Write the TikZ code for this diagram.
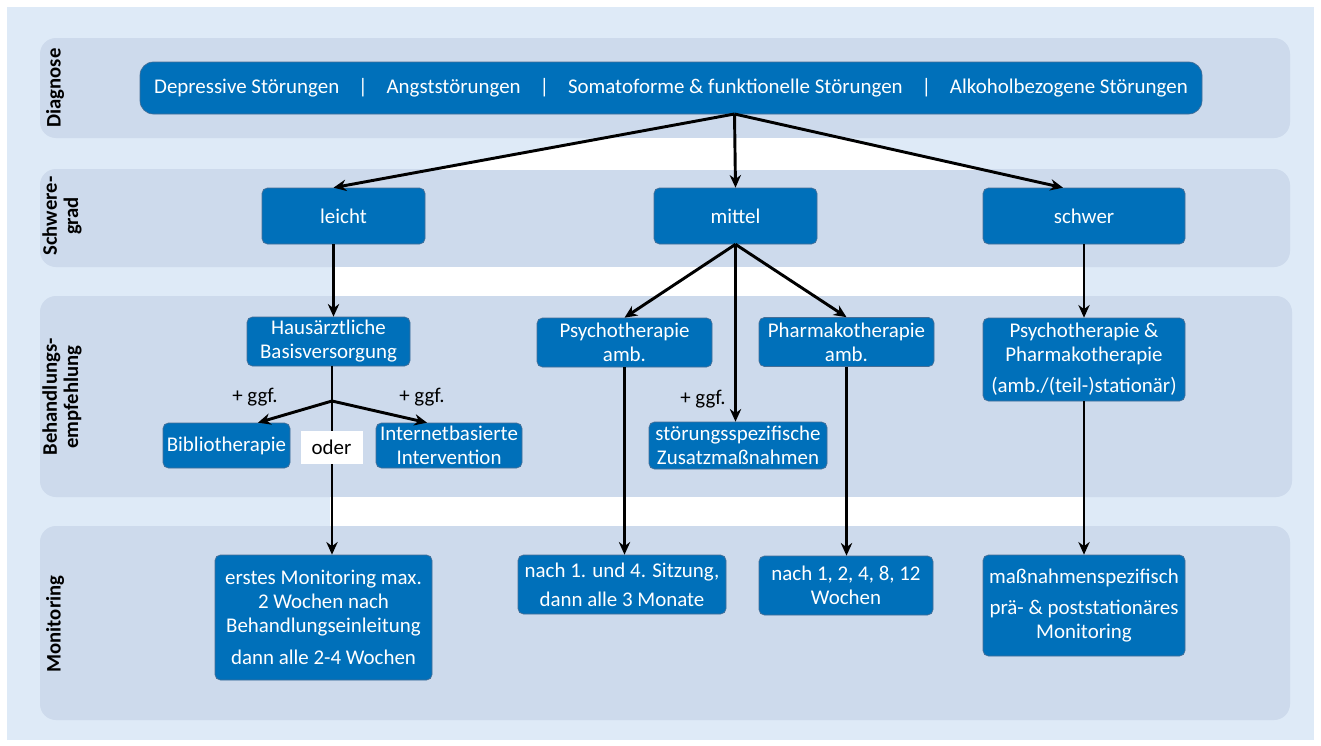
\documentclass[tikz,border=0pt]{standalone}
\usepackage{fontspec}
\setmainfont{Carlito}
\usetikzlibrary{arrows.meta,calc}
\definecolor{bgblue}{RGB}{222,234,247}
\definecolor{bandcol}{RGB}{205,218,236}
\definecolor{boxblue}{RGB}{0,112,186}
\definecolor{boxedge}{RGB}{70,110,150}
\begin{document}
\begin{tikzpicture}[x=0.75pt,y=-0.75pt,
  bbox/.style={fill=boxblue, draw=boxedge, line width=0.5pt, rounded corners=4pt, text=white,
    font=\fontsize{15.7}{18}\selectfont, align=center, inner sep=0pt},
  arr/.style={line width=2.2pt, -{Stealth[length=9.5pt,width=8.5pt]}},
  ln/.style={line width=2.2pt},
  bandlabel/.style={rotate=90, font=\fontsize{15.5}{16}\selectfont\bfseries, align=center},
  bandbox/.style={fill=bandcol, rounded corners=12pt},
  plain/.style={font=\fontsize{15.7}{18}\selectfont, inner sep=0pt}]
\useasboundingbox (0,0) rectangle (1321,746);
\fill[white] (0,0) rectangle (1321,746);
\fill[bgblue] (7,7) rectangle (1314,740);
% bands
\fill[bandbox] (40,38) rectangle (1290,138);
\fill[bandbox] (40,169) rectangle (1290,267);
\fill[bandbox] (40,296) rectangle (1292,497);
\fill[bandbox] (40,526) rectangle (1290,720);
% white gaps
\begin{scope}
  \clip (0,138) rectangle (1321,169);
  \fill[white] (734,114) -- (333,188) -- (1063,188) -- cycle;
\end{scope}
\fill[white] (333,267) rectangle (1083,296);
\fill[white] (330,497) rectangle (1083,526);
% band labels
\node[bandlabel] (l1) at (55,88) {Diagnose};
\node[bandlabel] (l2) at (62,216) {Schwere-\\grad};
\node[bandlabel] (l3) at (62,397) {Behandlungs-\\empfehlung};
\node[bandlabel] (l4) at (55,624) {Monitoring};
% diagnose
\node[bbox, rounded corners=10pt, minimum width=796.5pt, minimum height=39pt] (diag) at (671,88)
  {Depressive Störungen\hspace{0.9em}|\hspace{0.9em}Angststörungen\hspace{0.9em}|\hspace{0.9em}Somatoforme \& funktionelle Störungen\hspace{0.9em}|\hspace{0.9em}Alkoholbezogene Störungen};
\coordinate (d0) at (734.5,114);
% schweregrad
\node[bbox, minimum width=122.25pt, minimum height=42pt] (leicht) at (343.5,216) {leicht};
\node[bbox, minimum width=122.25pt, minimum height=42pt] (mittel) at (735.5,216) {mittel};
\node[bbox, minimum width=151.5pt, minimum height=42pt] (schwer) at (1084,216) {schwer};
% behandlung
\node[bbox, minimum width=122.25pt, minimum height=36.75pt] (haus) at (328.5,341.5) {Hausärztliche\\Basisversorgung};
\node[bbox, minimum width=95.25pt, minimum height=33.75pt] (biblio) at (226.5,445.5) {Bibliotherapie};
\node[bbox, minimum width=109.5pt, minimum height=33.75pt] (inet) at (449,445.5) {Internetbasierte\\Intervention};
\node[bbox, minimum width=131.25pt, minimum height=36.75pt] (psycho) at (624.5,342.5) {Psychotherapie\\amb.};
\node[bbox, minimum width=131.25pt, minimum height=36.75pt] (pharma) at (846.5,342) {Pharmakotherapie\\amb.};
\node[bbox, minimum width=133.5pt, minimum height=35.25pt] (stoer) at (738,445.5) {störungsspezifische\\Zusatzmaßnahmen};
\node[bbox, minimum width=151.5pt, minimum height=62.25pt] (pp) at (1084,359.5) {Psychotherapie \&\\Pharmakotherapie\\[5pt](amb./(teil-)stationär)};
% monitoring
\node[bbox, minimum width=162.75pt, minimum height=93.75pt] (m1) at (323.5,617.5) {erstes Monitoring max.\\2 Wochen nach\\Behandlungseinleitung\\[6pt]dann alle 2-4 Wochen};
\node[bbox, minimum width=156pt, minimum height=44.25pt] (m2) at (622,584.5) {nach 1. und 4. Sitzung,\\[4pt]dann alle 3 Monate};
\node[bbox, minimum width=130.5pt, minimum height=44.25pt] (m3) at (846,585.5) {nach 1, 2, 4, 8, 12\\Wochen};
\node[bbox, minimum width=151.5pt, minimum height=75.75pt] (m4) at (1084,605.5) {maßnahmenspezifisch\\[5pt]prä- \& poststationäres\\Monitoring};
% connectors
\draw[arr] (d0) -- ([xshift=-7.5pt]leicht.north);
\draw[arr] (d0) -- (mittel.north);
\draw[arr] (d0) -- ([xshift=-15.75pt]schwer.north);
\draw[arr] ([xshift=-7.5pt]leicht.south) -- ([xshift=-7.5pt]leicht.south |- haus.north);
\coordinate (b0) at (332,401);
\draw[ln] (haus.south -| b0) -- (b0);
\draw[arr] (b0) -- ([xshift=23.6pt]biblio.north);
\draw[arr] (b0) -- ([xshift=-16.5pt]inet.north);
\draw[arr] (b0) -- (b0 |- m1.north);
\node[fill=white, minimum width=46.5pt, minimum height=24.75pt, plain] (oder) at (331.5,447.5) {oder};
\node[plain] (g1) at (255,397) {+ ggf.};
\node[plain] (g2) at (422,397) {+ ggf.};
\node[plain] (g3) at (703,399) {+ ggf.};
\draw[arr] (mittel.south) -- (psycho.north);
\draw[arr] (mittel.south) -- (pharma.north);
\draw[arr] (mittel.south) -- (mittel.south |- stoer.north);
\draw[arr] (schwer.south) -- (pp.north);
\draw[arr] (psycho.south) -- (psycho.south |- m2.north);
\draw[arr] (pharma.south) -- (pharma.south |- m3.north);
\draw[arr] (pp.south) -- (m4.north);
\end{tikzpicture}
\end{document}
